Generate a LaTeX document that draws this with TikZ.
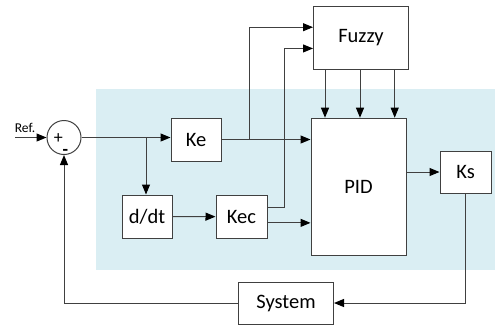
\documentclass[tikz,border=0pt]{standalone}
\usepackage{fontspec}
\setmainfont{Carlito}
\usetikzlibrary{arrows.meta,calc}
\definecolor{bgblue}{HTML}{DAEEF3}
\definecolor{lncol}{HTML}{404040}
\begin{document}
\begin{tikzpicture}[x=1pt,y=-1pt,
  box/.style={draw=lncol, fill=white, line width=1pt, inner sep=0pt, font=\fontsize{20.5}{24}\selectfont},
  arr/.style={draw=lncol, line width=1pt, -{Triangle[length=10pt,width=8pt,color=black]}},
  wire/.style={draw=lncol, line width=1pt}]
\useasboundingbox (0,0) rectangle (495,325);
\fill[bgblue] (96,89) rectangle (495,270);
% blocks
\node[draw=lncol, fill=white, line width=1pt, circle, minimum size=34pt, inner sep=0pt] (sum) at (64,137.5) {};
\node[box, minimum width=50pt, minimum height=43pt] (ke) at (196,139.5) {Ke};
\node[box, minimum width=50pt, minimum height=43pt] (ddt) at (147,216.5) {d/dt};
\node[box, minimum width=51pt, minimum height=43pt] (kec) at (241.5,216.7) {Kec};
\node[box, minimum width=95pt, minimum height=63pt] (fuzzy) at (361,37.7) {Fuzzy};
\node[box, minimum width=95pt, minimum height=137pt] (pid) at (358.5,186.7) {PID};
\node[box, minimum width=51pt, minimum height=42pt] (ks) at (465.5,172) {Ks};
\node[box, minimum width=95pt, minimum height=42pt] (sys) at (286,303) {System};
% signs
\node[font=\fontsize{18}{20}\selectfont, inner sep=0pt] (plus) at (58.3,139) {+};
\node[font=\bfseries\fontsize{18}{20}\selectfont, inner sep=0pt] (minus) at (65.5,152) {-};
% reference input
\coordinate (ref) at (15,137.5);
\node[font=\fontsize{13.5}{15}\selectfont, inner sep=0pt] (reflab) at (25,128) {Ref.};
\draw[arr] (ref) -- (sum.west);
% error path
\coordinate (b1) at (146,137.5);
\draw[arr] (sum.east) -- (sum -| ke.west);
\draw[arr] (b1) -- (b1 |- ddt.north);
\draw[arr] (ddt) -- (kec);
% Ke to PID and Fuzzy
\coordinate (b2) at (249,139.5);
\draw[arr] (ke.east) -- (ke -| pid.west);
\coordinate (fin1) at ($(fuzzy.north west)!0.336!(fuzzy.south west)$);
\coordinate (fin2) at ($(fuzzy.north west)!0.668!(fuzzy.south west)$);
\draw[arr] (b2) |- (fin1);
% Kec to Fuzzy and PID
\coordinate (kout1) at ($(kec.north east)!0.28!(kec.south east)$);
\coordinate (kout2) at ($(kec.north east)!0.64!(kec.south east)$);
\coordinate (kup) at (284,0);
\draw[arr] (kout1) -- (kout1 -| kup) |- (fin2);
\draw[arr] (kout2) -- (kout2 -| pid.west);
% Fuzzy to PID
\coordinate (f1) at (325,0);
\coordinate (f2) at (360,0);
\coordinate (f3) at (394.7,0);
\draw[arr] (fuzzy.south -| f1) -- (pid.north -| f1);
\draw[arr] (fuzzy.south -| f2) -- (pid.north -| f2);
\draw[arr] (fuzzy.south -| f3) -- (pid.north -| f3);
% PID to Ks
\draw[arr] (ks.west -| pid.east) -- (ks.west);
% feedback
\draw[arr] (ks.south) |- (sys.east);
\draw[arr] (sys.west) -| (sum.south);
\end{tikzpicture}
\end{document}
